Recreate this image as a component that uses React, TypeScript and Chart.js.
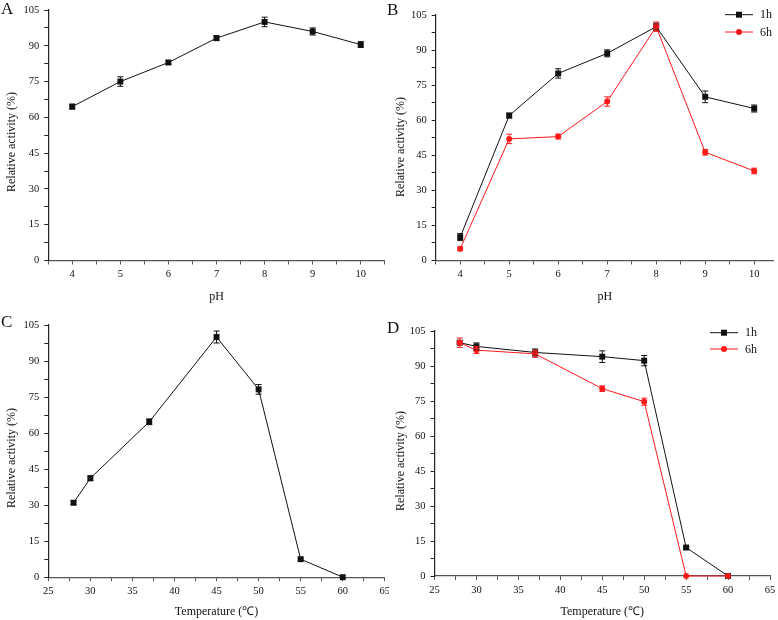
import React, { useEffect, useRef } from "react";
import { Chart, registerables } from "chart.js";

Chart.register(...registerables);

const FONT = "'Liberation Serif', 'Times New Roman', serif";

// ---- data ----
const phLevels = [4, 5, 6, 7, 8, 9, 10];
const tempLevels = [28, 30, 37, 45, 50, 55, 60];

const phActivity = [64.5, 75, 83, 93.2, 100, 96, 90.5];
const phActivityErr = [1, 2, 0.8, 1, 2, 1.5, 1.2];

const phStability1h = [10, 62, 80, 88.6, 100, 70, 65];
const phStability1hErr = [1.5, 1, 2, 1.5, 1.5, 2.5, 1.5];
const phStability6h = [5, 52, 53, 68, 100, 46.3, 38.3];
const phStability6hErr = [0.8, 2, 1, 2, 2, 1.2, 1.2];

const tempActivity = [31, 41.2, 64.7, 100, 78.2, 7.5, 0];
const tempActivityErr = [0.8, 1, 1.2, 2.5, 2, 0.5, 0];

const tempStability1h = [100, 98.4, 95.8, 94, 92.3, 12.2, 0];
const tempStability1hErr = [0, 1.5, 1.5, 2.5, 2.2, 0.5, 0];
const tempStability6h = [100, 96.8, 95.2, 80.3, 74.7, 0, 0];
const tempStability6hErr = [2, 1.5, 1.5, 1.2, 1.5, 0, 0];

const seriesLabels = ["1h", "6h"];
const panelLetters = ["A", "B", "C", "D"];
const yTitle = "Relative activity (%)";
const phTitle = "pH";
const tempTitle = "Temperature (\u2103)";

// ---- plugins ----
const errorBarPlugin = {
  id: "errorBars",
  afterDatasetsDraw(chart: any) {
    const ctx = chart.ctx;
    const xs = chart.scales.x;
    const ys = chart.scales.y;
    chart.data.datasets.forEach((ds: any) => {
      if (!ds.errors) return;
      ctx.save();
      ctx.strokeStyle = ds.borderColor;
      ctx.lineWidth = 1;
      ds.data.forEach((p: any, j: number) => {
        const e = ds.errors[j];
        if (!e) return;
        const x = xs.getPixelForValue(p.x);
        const y1 = ys.getPixelForValue(p.y + e);
        const y2 = ys.getPixelForValue(p.y - e);
        ctx.beginPath();
        ctx.moveTo(x, y1);
        ctx.lineTo(x, y2);
        ctx.moveTo(x - 3, y1);
        ctx.lineTo(x + 3, y1);
        ctx.moveTo(x - 3, y2);
        ctx.lineTo(x + 3, y2);
        ctx.stroke();
      });
      ctx.restore();
    });
  },
};

const yTitlePlugin = {
  id: "yTitle",
  afterDraw(chart: any, _args: any, opts: any) {
    if (!opts || !opts.text) return;
    const ctx = chart.ctx;
    ctx.save();
    ctx.translate(opts.x, opts.y);
    ctx.rotate(-Math.PI / 2);
    ctx.font = `12px ${FONT}`;
    ctx.fillStyle = "#111";
    ctx.textAlign = "center";
    ctx.textBaseline = "middle";
    ctx.fillText(opts.text, 0, 0);
    ctx.restore();
  },
};

const lineLegendPlugin = {
  id: "lineLegend",
  afterDraw(chart: any, _args: any, opts: any) {
    if (!opts || !opts.show) return;
    const ctx = chart.ctx;
    ctx.save();
    chart.data.datasets.forEach((ds: any, i: number) => {
      const y = opts.y + i * opts.gap;
      ctx.strokeStyle = ds.borderColor;
      ctx.lineWidth = 1;
      ctx.beginPath();
      ctx.moveTo(opts.x, y);
      ctx.lineTo(opts.x + opts.len, y);
      ctx.stroke();
      const mx = opts.x + opts.len / 2;
      ctx.fillStyle = ds.borderColor;
      ctx.beginPath();
      if (ds.pointStyle === "rect") {
        ctx.rect(mx - 3, y - 3, 6, 6);
      } else {
        ctx.arc(mx, y, 3, 0, Math.PI * 2);
      }
      ctx.fill();
      ctx.fillStyle = "#111";
      ctx.font = `12px ${FONT}`;
      ctx.textAlign = "left";
      ctx.textBaseline = "middle";
      ctx.fillText(ds.label, opts.x + opts.len + 7, y + 0.5);
    });
    ctx.restore();
  },
};

// ---- helpers ----
const BLACK = "#111111";
const RED = "#ff1a1a";

function series(label: string, xs: number[], ys: number[], errs: number[], color: string, style: string, order: number) {
  return {
    label,
    data: xs.map((x, i) => ({ x, y: ys[i] })),
    errors: errs,
    borderColor: color,
    backgroundColor: color,
    borderWidth: 1,
    pointStyle: style,
    pointRadius: style === "rect" ? 4.2 : 3,
    pointBorderWidth: 0,
    pointBackgroundColor: color,
    tension: 0,
    clip: false,
    order,
  };
}

type PanelSpec = {
  left: number;
  top: number;
  W: number;
  H: number;
  area: { left: number; top: number; right: number; bottom: number };
  xMin: number;
  xMax: number;
  xStep: number;
  xMajor: number;
  xTitle: string;
  xTitlePad: number;
  yTitleX: number;
  yTitleY: number;
  datasets: any[];
  legend?: { x: number; y: number; len: number; gap: number };
};

function Panel({ spec }: { spec: PanelSpec }) {
  const ref = useRef<HTMLCanvasElement>(null);
  useEffect(() => {
    const { W, H, area } = spec;
    const chart = new Chart(ref.current as HTMLCanvasElement, {
      type: "line",
      data: { datasets: spec.datasets },
      plugins: [errorBarPlugin, yTitlePlugin, lineLegendPlugin],
      options: {
        responsive: false,
        animation: false,
        devicePixelRatio: 1,
        layout: { padding: { top: area.top, right: W - area.right, left: 0, bottom: 0 } },
        plugins: {
          legend: { display: false },
          tooltip: { enabled: false },
          yTitle: { text: yTitle, x: spec.yTitleX, y: spec.yTitleY },
          lineLegend: spec.legend ? { show: true, ...spec.legend } : { show: false },
        } as any,
        scales: {
          x: {
            type: "linear",
            min: spec.xMin,
            max: spec.xMax,
            afterFit: (s: any) => {
              s.height = H - area.bottom;
              s.paddingLeft = 0;
              s.paddingRight = 0;
            },
            ticks: {
              stepSize: spec.xStep,
              autoSkip: false,
              maxRotation: 0,
              includeBounds: false,
              padding: 3.5,
              color: "#111",
              font: { family: FONT, size: 10.5 },
              callback: (v: any) => {
                const n = Number(v);
                return Math.abs(n / spec.xMajor - Math.round(n / spec.xMajor)) < 1e-6 ? String(Math.round(n)) : "";
              },
            },
            grid: { drawOnChartArea: false, drawTicks: true, tickLength: 4, tickColor: "#555", tickWidth: 1 },
            border: { display: true, color: "#555", width: 1.2 },
            title: {
              display: true,
              text: spec.xTitle,
              color: "#111",
              font: { family: FONT, size: 12 },
              padding: { top: 0, bottom: spec.xTitlePad },
            },
          },
          y: {
            type: "linear",
            min: 0,
            max: 105,
            afterFit: (s: any) => {
              s.width = area.left;
              s.paddingTop = 0;
              s.paddingBottom = 0;
            },
            ticks: {
              stepSize: 7.5,
              autoSkip: false,
              padding: 5,
              color: "#111",
              font: { family: FONT, size: 10.5 },
              callback: (v: any) => {
                const n = Number(v);
                return Math.abs(n / 15 - Math.round(n / 15)) < 1e-6 ? String(Math.round(n)) : "";
              },
            },
            grid: { drawOnChartArea: false, drawTicks: true, tickLength: 4, tickColor: "#222", tickWidth: 1 },
            border: { display: true, color: "#222", width: 1.2 },
            title: { display: false },
          },
        },
      } as any,
    });
    return () => chart.destroy();
  }, [spec]);
  return (
    <canvas
      ref={ref}
      width={spec.W}
      height={spec.H}
      style={{ position: "absolute", left: spec.left, top: spec.top, width: spec.W, height: spec.H }}
    />
  );
}

const panels: PanelSpec[] = [
  {
    left: 0,
    top: 0,
    W: 389,
    H: 310,
    area: { left: 48.2, top: 10, right: 387.5, bottom: 260.5 },
    xMin: 3.5,
    xMax: 10.5,
    xStep: 0.5,
    xMajor: 1,
    xTitle: phTitle,
    xTitlePad: 5.5,
    yTitleX: 12.3,
    yTitleY: 142,
    datasets: [series("pH", phLevels, phActivity, phActivityErr, BLACK, "rect", 0)],
  },
  {
    left: 389,
    top: 0,
    W: 389,
    H: 310,
    area: { left: 46.7, top: 15, right: 389, bottom: 260.5 },
    xMin: 3.5,
    xMax: 10.4,
    xStep: 0.5,
    xMajor: 1,
    xTitle: phTitle,
    xTitlePad: 5.5,
    yTitleX: 12,
    yTitleY: 147,
    datasets: [
      series(seriesLabels[0], phLevels, phStability1h, phStability1hErr, BLACK, "rect", 1),
      series(seriesLabels[1], phLevels, phStability6h, phStability6hErr, RED, "circle", 0),
    ],
    legend: { x: 336, y: 14.7, len: 28, gap: 17.3 },
  },
  {
    left: 0,
    top: 310,
    W: 389,
    H: 310,
    area: { left: 48.3, top: 15, right: 386.7, bottom: 267.2 },
    xMin: 25,
    xMax: 65,
    xStep: 2.5,
    xMajor: 5,
    xTitle: tempTitle,
    xTitlePad: 1.2,
    yTitleX: 12.3,
    yTitleY: 148,
    datasets: [series("T", tempLevels, tempActivity, tempActivityErr, BLACK, "rect", 0)],
  },
  {
    left: 389,
    top: 310,
    W: 389,
    H: 310,
    area: { left: 45.5, top: 21, right: 381, bottom: 266 },
    xMin: 25,
    xMax: 65,
    xStep: 2.5,
    xMajor: 5,
    xTitle: tempTitle,
    xTitlePad: 1.2,
    yTitleX: 12,
    yTitleY: 151,
    datasets: [
      series(seriesLabels[0], tempLevels, tempStability1h, tempStability1hErr, BLACK, "rect", 1),
      series(seriesLabels[1], tempLevels, tempStability6h, tempStability6hErr, RED, "circle", 0),
    ],
    legend: { x: 321, y: 22.7, len: 28, gap: 16.3 },
  },
];

const letterPos = [
  { left: 1, top: -0.5 },
  { left: 387, top: 0.5 },
  { left: 1, top: 312.5 },
  { left: 387, top: 318.5 },
];

export default function App() {
  return (
    <div
      style={{
        position: "absolute",
        left: 0,
        top: 0,
        width: 778,
        height: 620,
        background: "#fff",
        overflow: "hidden",
        fontFamily: FONT,
      }}
    >
      {panels.map((p, i) => (
        <Panel key={i} spec={p} />
      ))}
      {panelLetters.map((l, i) => (
        <div
          key={l}
          style={{
            position: "absolute",
            left: letterPos[i].left,
            top: letterPos[i].top,
            fontSize: 17,
            lineHeight: "17px",
            color: "#111",
            fontFamily: FONT,
          }}
        >
          {l}
        </div>
      ))}
    </div>
  );
}
